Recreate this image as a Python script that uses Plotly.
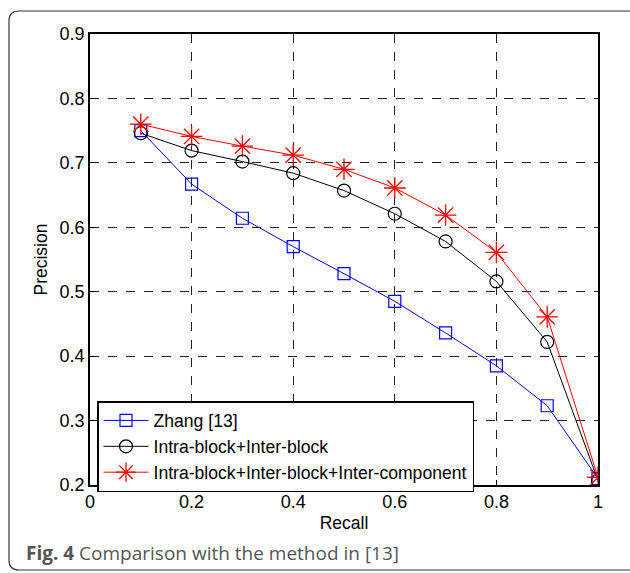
import plotly.graph_objects as go

recall = [0.1, 0.2, 0.3, 0.4, 0.5, 0.6, 0.7, 0.8, 0.9, 1.0]
zhang = [0.750, 0.667, 0.614, 0.570, 0.528, 0.485, 0.436, 0.385, 0.323, 0.210]
intra_inter = [0.746, 0.719, 0.702, 0.684, 0.657, 0.621, 0.578, 0.516, 0.422, 0.207]
intra_inter_comp = [0.760, 0.741, 0.726, 0.712, 0.690, 0.661, 0.619, 0.561, 0.461, 0.212]

names = ["Zhang [13]", "Intra-block+Inter-block", "Intra-block+Inter-block+Inter-component"]

fig = go.Figure()
fig.add_trace(go.Scatter(x=recall, y=zhang, name=names[0], mode="lines+markers",
                         line=dict(color="#0000ff", width=1),
                         marker=dict(symbol="square-open", size=12, color="#0000ff", line=dict(width=1.2))))
fig.add_trace(go.Scatter(x=recall, y=intra_inter, name=names[1], mode="lines+markers",
                         line=dict(color="#000000", width=1),
                         marker=dict(symbol="circle-open", size=13, color="#000000", line=dict(width=1.2))))
fig.add_trace(go.Scatter(x=recall, y=intra_inter_comp, name=names[2], mode="lines+markers",
                         line=dict(color="#ff0000", width=1),
                         marker=dict(symbol="asterisk-open", size=18, color="#ff0000", line=dict(width=1.3, color="#ff0000"))))

FONT = "Liberation Sans, Arial"
axis_common = dict(
    showline=True, linecolor="black", linewidth=1.6, mirror=True,
    ticks="inside", ticklen=5, tickcolor="black",
    showgrid=True, gridcolor="#222222", griddash="dash", gridwidth=0.8,
    zeroline=False,
    tickfont=dict(family=FONT, size=18, color="black"),
)

fig.update_xaxes(range=[0, 1], dtick=0.2, tick0=0, tickformat="~g",
                 title=dict(text="Recall", font=dict(family=FONT, size=17.5, color="black"), standoff=5),
                 **axis_common)
fig.update_yaxes(range=[0.2, 0.9], dtick=0.1, tick0=0.2, tickformat=".1f",
                 title=dict(text="Precision", font=dict(family=FONT, size=17.5, color="black"), standoff=7),
                 **axis_common)

W, H = 630, 573
ml, mr, mt, mb = 90, 32, 34, 88
pw, ph = W - ml - mr, H - mt - mb

def px(x):
    return (x - ml) / pw

def py(y):
    return (H - mb - y) / ph

# outer rounded frame
x0, x1, y0, y1, r = 9, 634, 11, 570, 10
path = (f"M {px(x0 + r)} {py(y0)} L {px(x1)} {py(y0)} "
        f"M {px(x0 + r)} {py(y0)} Q {px(x0)} {py(y0)} {px(x0)} {py(y0 + r)} "
        f"L {px(x0)} {py(y1 - r)} Q {px(x0)} {py(y1)} {px(x0 + r)} {py(y1)} L {px(x1)} {py(y1)}")
fig.add_shape(type="path", xref="paper", yref="paper", path=path,
              line=dict(color="#333333", width=1.2))

fig.add_annotation(xref="paper", yref="paper", x=px(24), y=py(553), xanchor="left", yanchor="middle",
                   text="<b>Fig. 4</b> Comparison with the method in [13]", showarrow=False,
                   font=dict(family="Open Sans, Noto Sans", size=19, color="#555555"))

fig.update_layout(
    width=W, height=H,
    margin=dict(l=ml, r=mr, t=mt, b=mb),
    paper_bgcolor="white", plot_bgcolor="white",
    showlegend=True,
    legend=dict(x=px(97), y=py(401), xanchor="left", yanchor="top",
                bgcolor="white", bordercolor="black", borderwidth=1.5,
                font=dict(family=FONT, size=17.6, color="black"),
                tracegroupgap=0, itemwidth=45),
)

fig.write_html("out.html", config={"displayModeBar": False},
               post_script="document.body.style.margin='0';")
